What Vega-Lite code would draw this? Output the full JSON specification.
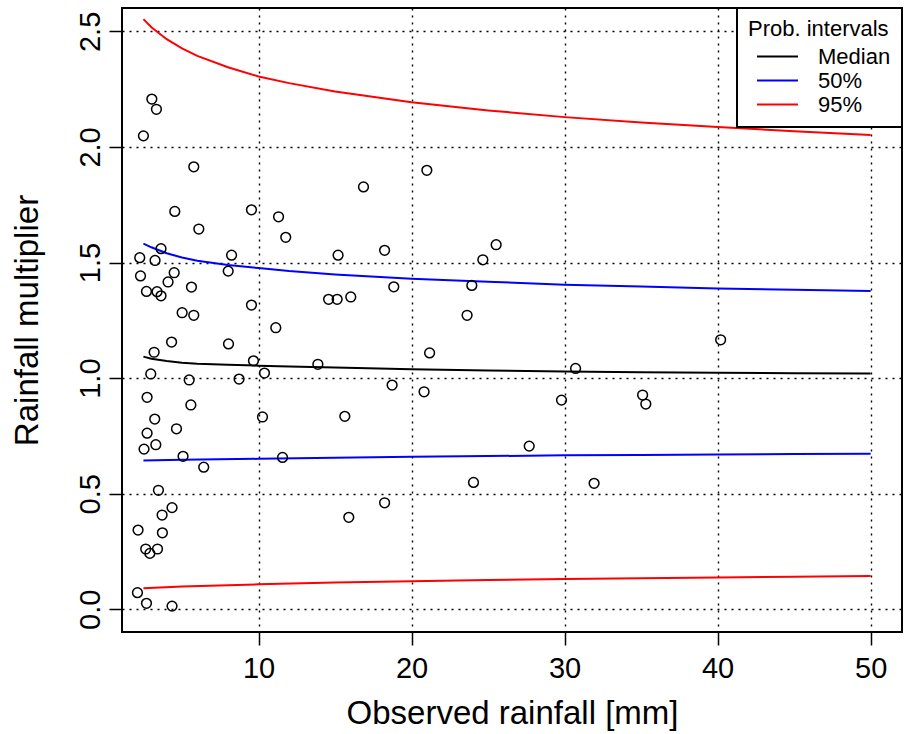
{
  "$schema": "https://vega.github.io/schema/vega-lite/v6.json",
  "width": 780,
  "height": 624,
  "autosize": {"type": "none"},
  "padding": {"left": 122, "top": 8, "right": 10, "bottom": 102},
  "background": "white",
  "config": {
    "font": "Liberation Sans",
    "view": {"stroke": "black", "strokeWidth": 2},
    "axis": {
      "grid": true,
      "gridColor": "black",
      "gridDash": [2, 5],
      "gridWidth": 1.4,
      "gridOpacity": 1,
      "domain": false,
      "tickColor": "black",
      "tickWidth": 1.5,
      "tickSize": 13,
      "labelFont": "Liberation Sans",
      "labelFontSize": 29,
      "labelColor": "black",
      "titleFont": "Liberation Sans",
      "titleFontSize": 33,
      "titleFontWeight": "normal",
      "titleColor": "black"
    },
    "legend": {"strokeWidth": 2}
  },
  "datasets": {
    "curves": [
      {"x": 2.48, "y": 2.553, "series": "95%", "bound": "upper"},
      {"x": 3, "y": 2.518, "series": "95%", "bound": "upper"},
      {"x": 4, "y": 2.466, "series": "95%", "bound": "upper"},
      {"x": 5, "y": 2.426, "series": "95%", "bound": "upper"},
      {"x": 6, "y": 2.394, "series": "95%", "bound": "upper"},
      {"x": 8, "y": 2.345, "series": "95%", "bound": "upper"},
      {"x": 10, "y": 2.305, "series": "95%", "bound": "upper"},
      {"x": 12, "y": 2.276, "series": "95%", "bound": "upper"},
      {"x": 15, "y": 2.240, "series": "95%", "bound": "upper"},
      {"x": 20, "y": 2.193, "series": "95%", "bound": "upper"},
      {"x": 25, "y": 2.158, "series": "95%", "bound": "upper"},
      {"x": 30, "y": 2.129, "series": "95%", "bound": "upper"},
      {"x": 35, "y": 2.106, "series": "95%", "bound": "upper"},
      {"x": 40, "y": 2.086, "series": "95%", "bound": "upper"},
      {"x": 45, "y": 2.068, "series": "95%", "bound": "upper"},
      {"x": 50, "y": 2.052, "series": "95%", "bound": "upper"},
      {"x": 2.48, "y": 1.582, "series": "50%", "bound": "upper"},
      {"x": 3, "y": 1.566, "series": "50%", "bound": "upper"},
      {"x": 4, "y": 1.540, "series": "50%", "bound": "upper"},
      {"x": 5, "y": 1.522, "series": "50%", "bound": "upper"},
      {"x": 6, "y": 1.508, "series": "50%", "bound": "upper"},
      {"x": 8, "y": 1.489, "series": "50%", "bound": "upper"},
      {"x": 10, "y": 1.476, "series": "50%", "bound": "upper"},
      {"x": 12, "y": 1.463, "series": "50%", "bound": "upper"},
      {"x": 15, "y": 1.448, "series": "50%", "bound": "upper"},
      {"x": 20, "y": 1.430, "series": "50%", "bound": "upper"},
      {"x": 25, "y": 1.417, "series": "50%", "bound": "upper"},
      {"x": 30, "y": 1.404, "series": "50%", "bound": "upper"},
      {"x": 35, "y": 1.396, "series": "50%", "bound": "upper"},
      {"x": 40, "y": 1.388, "series": "50%", "bound": "upper"},
      {"x": 45, "y": 1.382, "series": "50%", "bound": "upper"},
      {"x": 50, "y": 1.377, "series": "50%", "bound": "upper"},
      {"x": 2.48, "y": 1.093, "series": "Median", "bound": "mid"},
      {"x": 3, "y": 1.084, "series": "Median", "bound": "mid"},
      {"x": 4, "y": 1.074, "series": "Median", "bound": "mid"},
      {"x": 5, "y": 1.067, "series": "Median", "bound": "mid"},
      {"x": 6, "y": 1.062, "series": "Median", "bound": "mid"},
      {"x": 8, "y": 1.058, "series": "Median", "bound": "mid"},
      {"x": 10, "y": 1.054, "series": "Median", "bound": "mid"},
      {"x": 12, "y": 1.050, "series": "Median", "bound": "mid"},
      {"x": 15, "y": 1.046, "series": "Median", "bound": "mid"},
      {"x": 20, "y": 1.038, "series": "Median", "bound": "mid"},
      {"x": 25, "y": 1.033, "series": "Median", "bound": "mid"},
      {"x": 30, "y": 1.029, "series": "Median", "bound": "mid"},
      {"x": 35, "y": 1.026, "series": "Median", "bound": "mid"},
      {"x": 40, "y": 1.023, "series": "Median", "bound": "mid"},
      {"x": 45, "y": 1.021, "series": "Median", "bound": "mid"},
      {"x": 50, "y": 1.020, "series": "Median", "bound": "mid"},
      {"x": 2.48, "y": 0.644, "series": "50%", "bound": "lower"},
      {"x": 5, "y": 0.647, "series": "50%", "bound": "lower"},
      {"x": 10, "y": 0.651, "series": "50%", "bound": "lower"},
      {"x": 15, "y": 0.656, "series": "50%", "bound": "lower"},
      {"x": 20, "y": 0.660, "series": "50%", "bound": "lower"},
      {"x": 25, "y": 0.663, "series": "50%", "bound": "lower"},
      {"x": 30, "y": 0.666, "series": "50%", "bound": "lower"},
      {"x": 35, "y": 0.668, "series": "50%", "bound": "lower"},
      {"x": 40, "y": 0.670, "series": "50%", "bound": "lower"},
      {"x": 45, "y": 0.672, "series": "50%", "bound": "lower"},
      {"x": 50, "y": 0.673, "series": "50%", "bound": "lower"},
      {"x": 2.48, "y": 0.091, "series": "95%", "bound": "lower"},
      {"x": 5, "y": 0.099, "series": "95%", "bound": "lower"},
      {"x": 10, "y": 0.108, "series": "95%", "bound": "lower"},
      {"x": 15, "y": 0.116, "series": "95%", "bound": "lower"},
      {"x": 20, "y": 0.122, "series": "95%", "bound": "lower"},
      {"x": 25, "y": 0.127, "series": "95%", "bound": "lower"},
      {"x": 30, "y": 0.131, "series": "95%", "bound": "lower"},
      {"x": 35, "y": 0.135, "series": "95%", "bound": "lower"},
      {"x": 40, "y": 0.138, "series": "95%", "bound": "lower"},
      {"x": 45, "y": 0.141, "series": "95%", "bound": "lower"},
      {"x": 50, "y": 0.144, "series": "95%", "bound": "lower"}
    ],
    "points": [
      {"x": 3.03, "y": 2.207}, {"x": 3.33, "y": 2.163}, {"x": 2.48, "y": 2.048},
      {"x": 5.77, "y": 1.914}, {"x": 4.53, "y": 1.721}, {"x": 9.54, "y": 1.728},
      {"x": 11.31, "y": 1.698}, {"x": 6.10, "y": 1.645}, {"x": 11.78, "y": 1.609},
      {"x": 3.63, "y": 1.560}, {"x": 2.24, "y": 1.521}, {"x": 3.24, "y": 1.509},
      {"x": 8.24, "y": 1.532}, {"x": 2.29, "y": 1.442}, {"x": 4.49, "y": 1.456},
      {"x": 8.02, "y": 1.463}, {"x": 4.09, "y": 1.416}, {"x": 2.68, "y": 1.375},
      {"x": 3.37, "y": 1.374}, {"x": 3.63, "y": 1.356}, {"x": 5.62, "y": 1.394},
      {"x": 5.01, "y": 1.283}, {"x": 5.77, "y": 1.272}, {"x": 9.54, "y": 1.316},
      {"x": 11.13, "y": 1.218}, {"x": 4.32, "y": 1.156}, {"x": 8.04, "y": 1.148},
      {"x": 3.18, "y": 1.112}, {"x": 9.67, "y": 1.075}, {"x": 13.88, "y": 1.060},
      {"x": 10.39, "y": 1.022}, {"x": 2.96, "y": 1.018}, {"x": 5.47, "y": 0.992},
      {"x": 8.73, "y": 0.996}, {"x": 2.72, "y": 0.917}, {"x": 5.58, "y": 0.884},
      {"x": 10.26, "y": 0.832}, {"x": 3.22, "y": 0.823}, {"x": 4.64, "y": 0.781},
      {"x": 2.72, "y": 0.762}, {"x": 3.29, "y": 0.712}, {"x": 2.52, "y": 0.693},
      {"x": 5.07, "y": 0.662}, {"x": 11.57, "y": 0.657}, {"x": 6.42, "y": 0.615},
      {"x": 3.46, "y": 0.515}, {"x": 4.35, "y": 0.440}, {"x": 3.70, "y": 0.408},
      {"x": 2.13, "y": 0.343}, {"x": 3.72, "y": 0.331}, {"x": 2.63, "y": 0.261},
      {"x": 3.40, "y": 0.261}, {"x": 2.90, "y": 0.242}, {"x": 2.09, "y": 0.072},
      {"x": 2.68, "y": 0.026}, {"x": 4.35, "y": 0.014},
      {"x": 21.0, "y": 1.899}, {"x": 16.86, "y": 1.827}, {"x": 25.53, "y": 1.577},
      {"x": 15.2, "y": 1.532}, {"x": 18.24, "y": 1.553}, {"x": 24.66, "y": 1.512},
      {"x": 18.84, "y": 1.395}, {"x": 23.94, "y": 1.401}, {"x": 14.58, "y": 1.341},
      {"x": 15.14, "y": 1.341}, {"x": 16.03, "y": 1.351}, {"x": 23.63, "y": 1.272},
      {"x": 21.18, "y": 1.109}, {"x": 18.73, "y": 0.970}, {"x": 20.82, "y": 0.941},
      {"x": 15.64, "y": 0.835}, {"x": 27.69, "y": 0.706}, {"x": 24.05, "y": 0.549},
      {"x": 18.24, "y": 0.461}, {"x": 15.9, "y": 0.398},
      {"x": 40.2, "y": 1.166}, {"x": 30.72, "y": 1.042}, {"x": 29.8, "y": 0.905},
      {"x": 35.1, "y": 0.927}, {"x": 35.31, "y": 0.888}, {"x": 31.93, "y": 0.545}
    ]
  },
  "layer": [
    {
      "data": {"name": "curves"},
      "mark": {"type": "line", "strokeWidth": 2},
      "encoding": {
        "x": {
          "field": "x", "type": "quantitative",
          "scale": {"domain": [1.08, 52.05], "nice": false, "zero": false},
          "axis": {"values": [10, 20, 30, 40, 50], "format": "d", "labelPadding": 9, "title": "Observed rainfall [mm]", "titlePadding": 14}
        },
        "y": {
          "field": "y", "type": "quantitative",
          "scale": {"domain": [-0.098, 2.601], "nice": false, "zero": false},
          "axis": {"values": [0, 0.5, 1, 1.5, 2, 2.5], "format": ".1f", "labelAngle": -90, "labelAlign": "center", "labelBaseline": "bottom", "labelPadding": 4, "title": "Rainfall multiplier", "titlePadding": 32}
        },
        "color": {
          "field": "series", "type": "nominal",
          "scale": {"domain": ["Median", "50%", "95%"], "range": ["black", "blue", "red"]},
          "legend": {
            "orient": "none", "legendX": 615, "legendY": 0,
            "title": "Prob. intervals", "titleFontSize": 22, "titleFontWeight": "normal", "titleColor": "black", "titleFont": "Liberation Sans", "titlePadding": 4,
            "labelFontSize": 22, "labelColor": "black", "labelFont": "Liberation Sans",
            "symbolType": "M-2,0H2", "symbolSize": 420, "symbolStrokeWidth": 2,
            "symbolOffset": 18, "labelOffset": 29, "rowPadding": 1,
            "padding": 11, "fillColor": "white", "strokeColor": "black"
          }
        },
        "detail": {"field": "bound", "type": "nominal"}
      }
    },
    {
      "data": {"name": "points"},
      "mark": {"type": "point", "shape": "circle", "filled": false, "stroke": "black", "strokeWidth": 1.5, "size": 95, "opacity": 1},
      "encoding": {
        "x": {"field": "x", "type": "quantitative"},
        "y": {"field": "y", "type": "quantitative"}
      }
    }
  ]
}
